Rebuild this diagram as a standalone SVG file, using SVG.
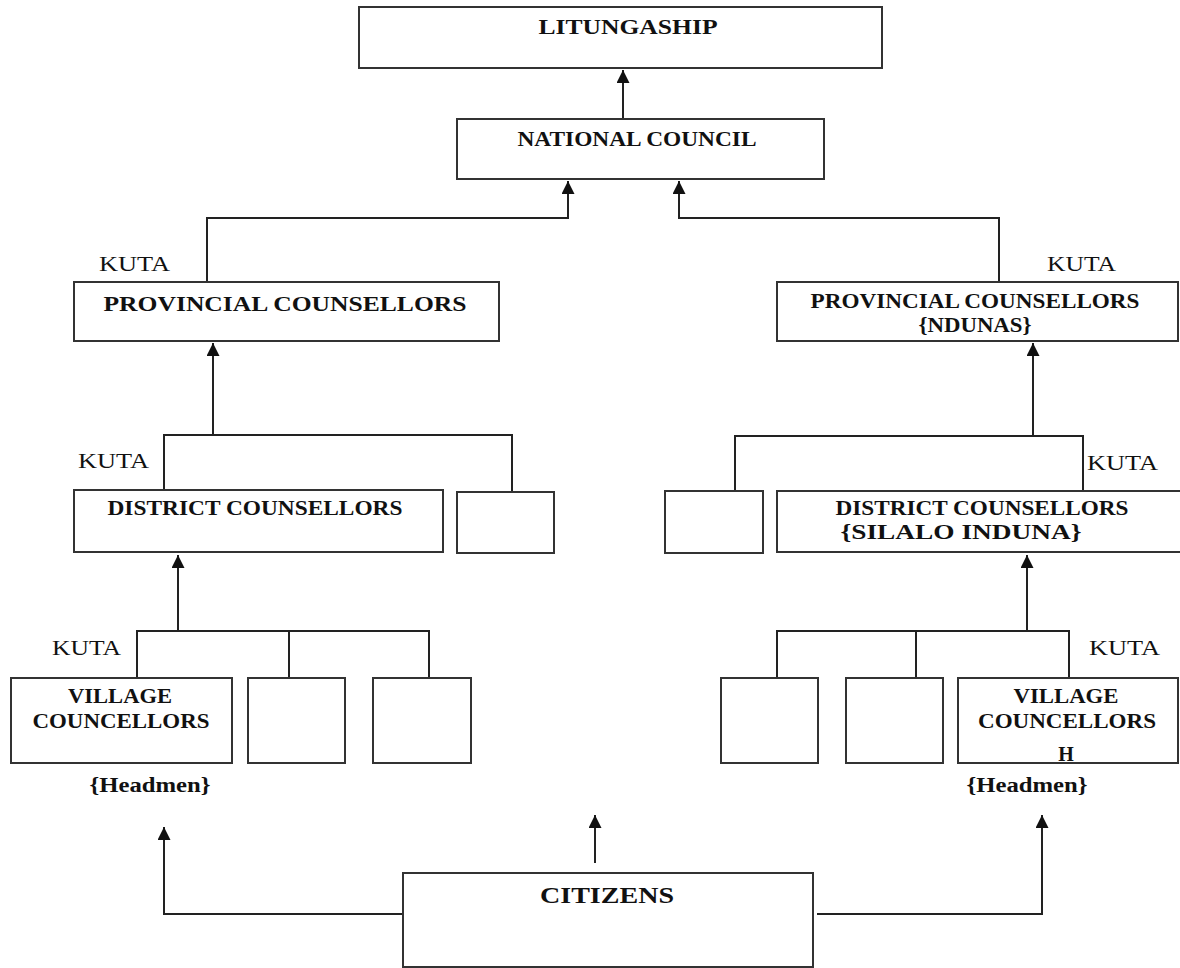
<svg xmlns="http://www.w3.org/2000/svg" width="1180" height="968" viewBox="0 0 1180 968">
<style>
.box{fill:#fff;stroke:#333;stroke-width:2}
.ln{fill:none;stroke:#222;stroke-width:2}
.t{font-family:"Liberation Serif","Times New Roman",serif;font-weight:bold;font-size:20px;fill:#111;text-anchor:middle}
.k{font-family:"Liberation Serif","Times New Roman",serif;font-size:21px;fill:#111}
</style>
<defs>
<marker id="ah" markerUnits="userSpaceOnUse" markerWidth="13" markerHeight="13" viewBox="0 0 12 12" refX="12" refY="6" orient="auto">
<path d="M0,0 L12,6 L0,12 z" fill="#111"/>
</marker>
</defs>
<rect width="1180" height="968" fill="#fff"/>
<g id="connectors">
<path class="ln" d="M623,118 V70" marker-end="url(#ah)"/>
<path class="ln" d="M207,282 V218 H568 V181" marker-end="url(#ah)"/>
<path class="ln" d="M999,282 V218 H679 V181" marker-end="url(#ah)"/>
<path class="ln" d="M213,435 V343" marker-end="url(#ah)"/>
<path class="ln" d="M164,490 V435 H512 V492"/>
<path class="ln" d="M1033,436 V343" marker-end="url(#ah)"/>
<path class="ln" d="M735,491 V436 H1083 V491"/>
<path class="ln" d="M178,631 V555" marker-end="url(#ah)"/>
<path class="ln" d="M137,678 V631 H429 V678 M289,631 V678"/>
<path class="ln" d="M1027,631 V555" marker-end="url(#ah)"/>
<path class="ln" d="M777,678 V631 H1069 V678 M916,631 V678"/>
<path class="ln" d="M403,914 H164 V827" marker-end="url(#ah)"/>
<path class="ln" d="M595,863 V815" marker-end="url(#ah)"/>
<path class="ln" d="M817,914 H1042 V815" marker-end="url(#ah)"/>
</g>
<g id="litungaship">
<rect class="box" x="359" y="7" width="523" height="61"/>
<text class="t" x="628" y="34" textLength="179" lengthAdjust="spacingAndGlyphs">LITUNGASHIP</text>
</g>
<g id="national-council">
<rect class="box" x="457" y="119" width="367" height="60"/>
<text class="t" x="637" y="146" textLength="239" lengthAdjust="spacingAndGlyphs">NATIONAL COUNCIL</text>
</g>
<g id="provincial-left">
<rect class="box" x="74" y="282" width="425" height="59"/>
<text class="t" x="285" y="311" textLength="363" lengthAdjust="spacingAndGlyphs">PROVINCIAL COUNSELLORS</text>
<text class="k" x="99" y="271" textLength="71" lengthAdjust="spacingAndGlyphs">KUTA</text>
</g>
<g id="provincial-right">
<rect class="box" x="777" y="282" width="401" height="59"/>
<text class="t" x="975" y="308" textLength="329" lengthAdjust="spacingAndGlyphs">PROVINCIAL COUNSELLORS</text>
<text class="t" x="975" y="332" textLength="113" lengthAdjust="spacingAndGlyphs">{NDUNAS}</text>
<text class="k" x="1047" y="271" textLength="69" lengthAdjust="spacingAndGlyphs">KUTA</text>
</g>
<g id="district-left">
<rect class="box" x="74" y="490" width="369" height="62"/>
<text class="t" x="255" y="515" textLength="295" lengthAdjust="spacingAndGlyphs">DISTRICT COUNSELLORS</text>
<text class="k" x="78" y="468" textLength="71" lengthAdjust="spacingAndGlyphs">KUTA</text>
</g>
<g id="district-left-2">
<rect class="box" x="457" y="492" width="97" height="61"/>
</g>
<g id="district-right-2">
<rect class="box" x="665" y="491" width="98" height="62"/>
</g>
<g id="district-right">
<rect class="box" x="777" y="491" width="410" height="61"/>
<text class="t" x="982" y="515" textLength="293" lengthAdjust="spacingAndGlyphs">DISTRICT COUNSELLORS</text>
<text class="t" x="961" y="539" textLength="241" lengthAdjust="spacingAndGlyphs">{SILALO INDUNA}</text>
<text class="k" x="1087" y="470" textLength="71" lengthAdjust="spacingAndGlyphs">KUTA</text>
</g>
<g id="village-left">
<rect class="box" x="11" y="678" width="221" height="85"/>
<text class="t" x="120" y="703" textLength="104" lengthAdjust="spacingAndGlyphs">VILLAGE</text>
<text class="t" x="121" y="728" textLength="177" lengthAdjust="spacingAndGlyphs">COUNCELLORS</text>
<text class="t" x="150" y="792" textLength="121" lengthAdjust="spacingAndGlyphs">{Headmen}</text>
<text class="k" x="52" y="655" textLength="69" lengthAdjust="spacingAndGlyphs">KUTA</text>
</g>
<g id="village-left-2"><rect class="box" x="248" y="678" width="97" height="85"/></g>
<g id="village-left-3"><rect class="box" x="373" y="678" width="98" height="85"/></g>
<g id="village-right-1"><rect class="box" x="721" y="678" width="97" height="85"/></g>
<g id="village-right-2"><rect class="box" x="846" y="678" width="97" height="85"/></g>
<g id="village-right">
<rect class="box" x="958" y="678" width="220" height="85"/>
<text class="t" x="1066" y="703" textLength="105" lengthAdjust="spacingAndGlyphs">VILLAGE</text>
<text class="t" x="1067" y="728" textLength="178" lengthAdjust="spacingAndGlyphs">COUNCELLORS</text>
<text class="t" x="1066" y="761">H</text>
<text class="t" x="1027" y="792" textLength="121" lengthAdjust="spacingAndGlyphs">{Headmen}</text>
<text class="k" x="1089" y="655" textLength="71" lengthAdjust="spacingAndGlyphs">KUTA</text>
</g>
<g id="citizens">
<rect class="box" x="403" y="873" width="410" height="94"/>
<text class="t" x="607" y="903" style="font-size:24px" textLength="134" lengthAdjust="spacingAndGlyphs">CITIZENS</text>
</g>
</svg>
